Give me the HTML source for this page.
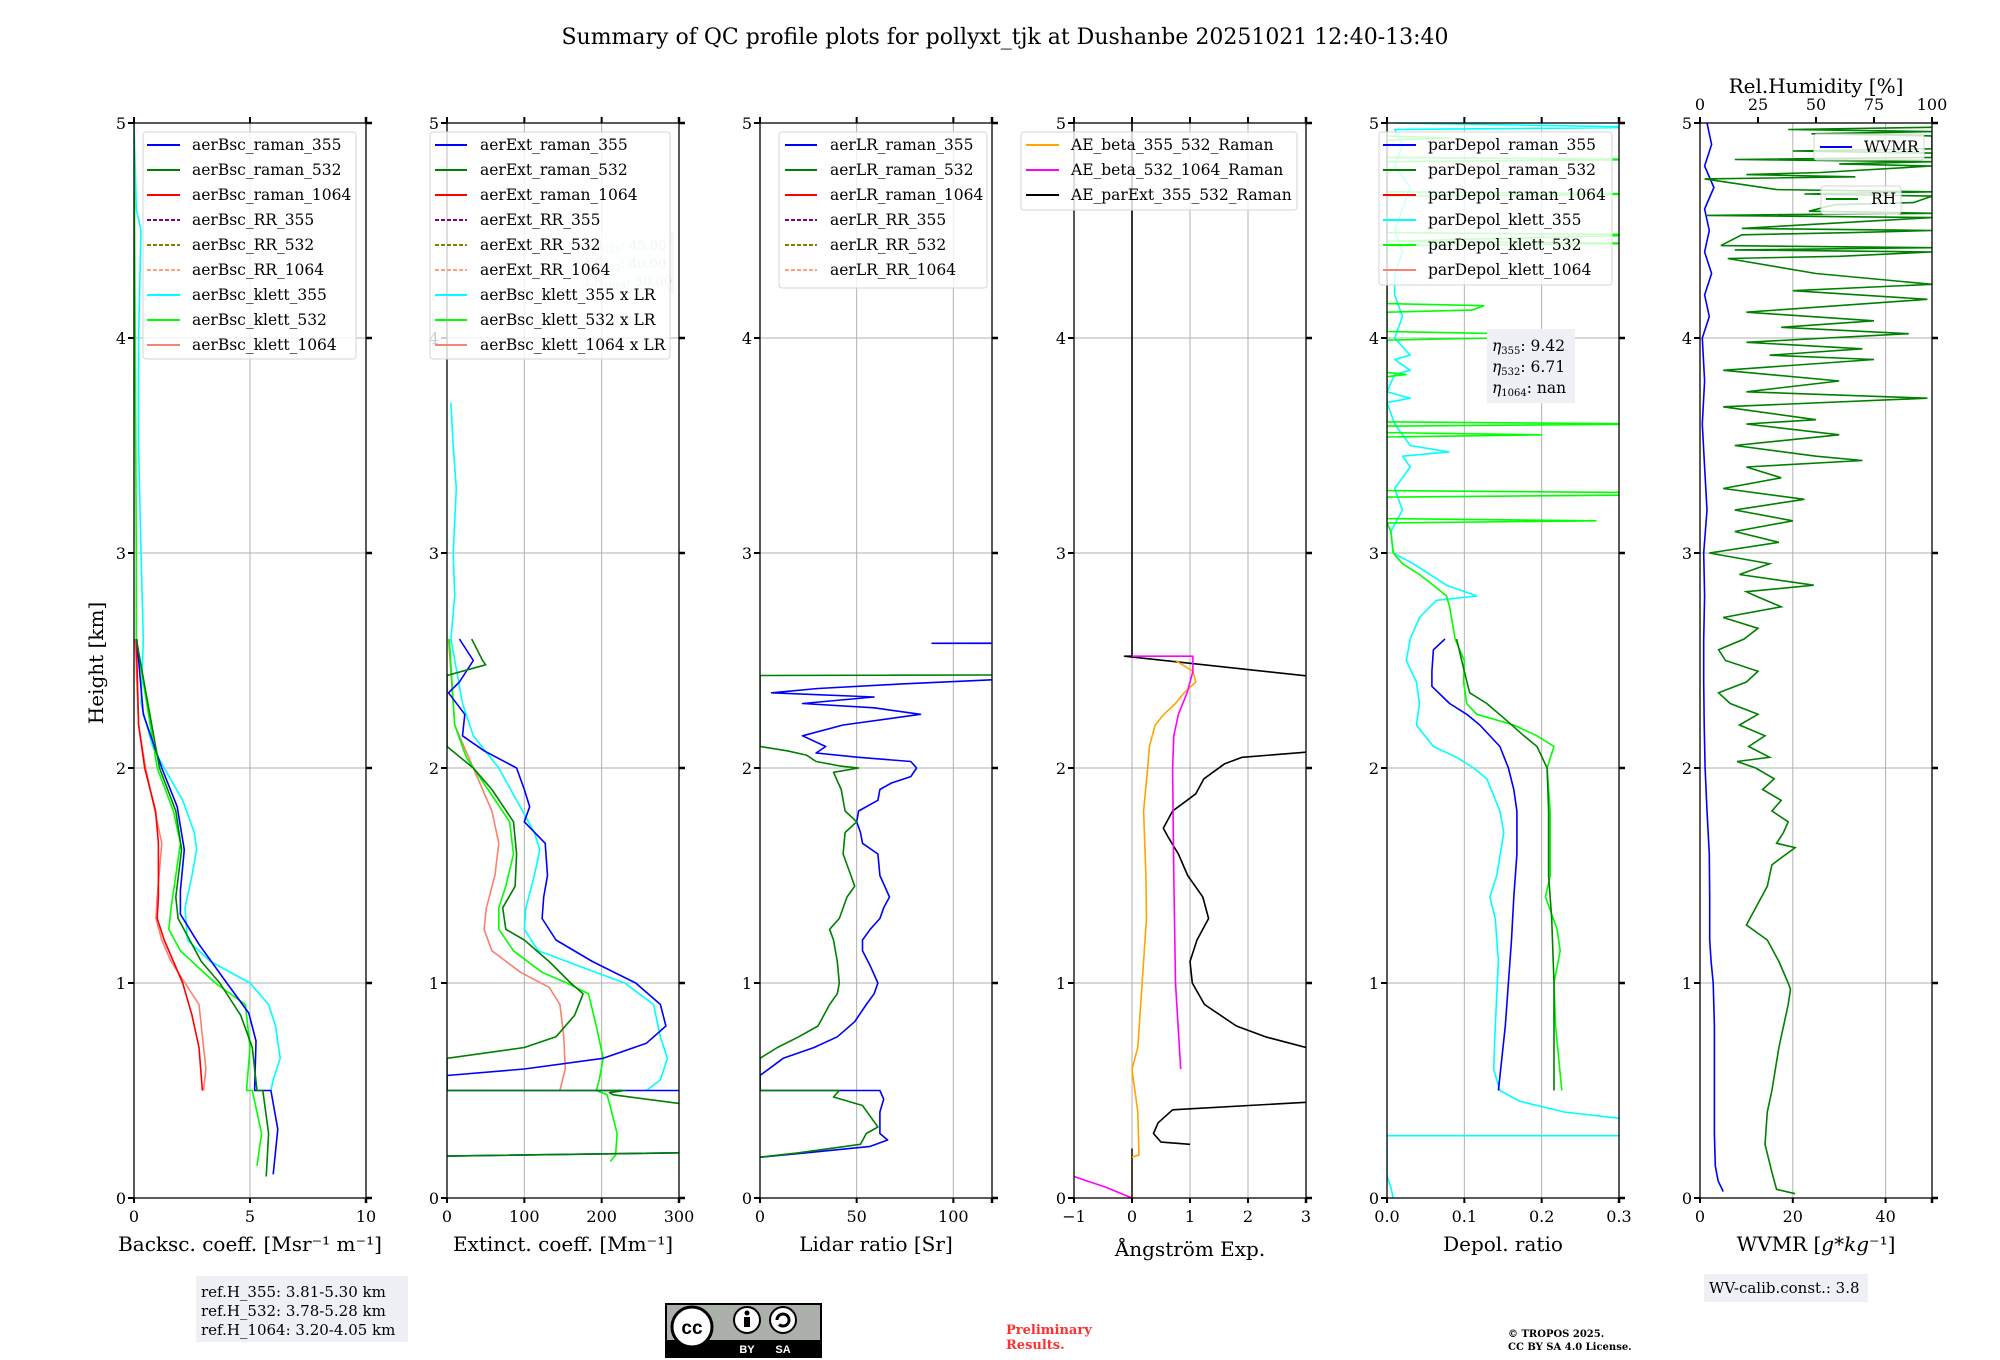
<!DOCTYPE html>
<html><head><meta charset="utf-8">
<style>
html,body{margin:0;padding:0;background:#fff;}
svg{display:block;font-family:"DejaVu Serif","Liberation Serif",serif;}
</style></head>
<body>
<svg id="fig" width="2000" height="1360" viewBox="0 0 2000 1360" xmlns="http://www.w3.org/2000/svg">
<rect width="2000" height="1360" fill="#fff"/>
<text x="1005" y="44" font-size="22" text-anchor="middle">Summary of QC profile plots for pollyxt_tjk at Dushanbe 20251021 12:40-13:40</text>
<text transform="translate(103,663) rotate(-90)" font-size="20" text-anchor="middle">Height [km]</text>
<g id="plots"></g>
<g id="overlays"></g>
</svg>
<script>
// ---------- Panel 1: backscatter ----------
const bscRaman355H=[2.6,2.25,2.0,1.82,1.62,1.43,1.32,1.18,1.0,0.86,0.73,0.5,0.5,0.32,0.11];
const bscRaman355V=[0.12,0.4,1.2,1.86,2.17,2.0,2.0,2.8,4.0,4.95,5.26,5.2,5.9,6.2,6.0];
const bscRaman532H=[2.6,2.0,1.8,1.62,1.4,1.3,1.1,1.0,0.85,0.7,0.5,0.5,0.3,0.1];
const bscRaman532V=[0.1,1.1,1.8,2.05,1.8,1.9,2.9,3.7,4.6,5.1,5.3,5.55,5.8,5.7];
const bscRaman1064H=[2.6,2.2,2.0,1.8,1.65,1.4,1.3,1.2,1.0,0.85,0.7,0.5];
const bscRaman1064V=[0.1,0.2,0.46,0.93,1.05,1.05,1.0,1.3,2.1,2.5,2.8,2.95];
const bscKlett355H=[5,4.6,4.5,4.0,3.5,3.0,2.6,2.3,2.1,2.0,1.85,1.7,1.62,1.5,1.35,1.2,1.1,1.0,0.9,0.8,0.65,0.55,0.5];
const bscKlett355V=[0,0.1,0.3,0.2,0.2,0.3,0.4,0.3,0.8,1.3,2.1,2.6,2.7,2.5,2.2,2.3,3.3,5.0,5.8,6.1,6.3,6.0,5.9];
const bscKlett532H=[5,4.0,3.0,2.6,2.0,1.8,1.65,1.5,1.35,1.25,1.15,1.0,0.9,0.7,0.5,0.5,0.3,0.15];
const bscKlett532V=[0,0.05,0.1,0.1,1.0,1.7,2.0,1.8,1.6,1.5,2.0,3.5,4.8,5.0,4.85,5.1,5.5,5.3];
const bscKlett1064H=[2.6,2.2,2.0,1.8,1.65,1.4,1.3,1.2,1.1,1.0,0.9,0.7,0.6,0.5];
const bscKlett1064V=[0.05,0.2,0.5,0.9,1.2,1.0,0.95,1.2,1.6,2.2,2.8,3.0,3.1,3.0];
// ---------- Panel 2: extinction ----------
const extRaman355H=[2.6,2.5,2.4,2.35,2.25,2.15,2.08,2.0,1.9,1.82,1.75,1.65,1.5,1.4,1.3,1.2,1.1,1.0,0.9,0.8,0.72,0.65,0.6,0.57,0.5,0.5,0.23,0.21,0.195];
const extRaman355V=[16,34,16,2,23,20,48,90,100,107,100,127,130,125,123,141,188,244,276,283,258,202,100,0,0,2000,2000,300,0];
const extRaman532H=[2.6,2.5,2.48,2.43,2.1,2.0,1.9,1.75,1.6,1.45,1.35,1.25,1.2,1.1,1.0,0.95,0.85,0.75,0.7,0.65,0.5,0.5,0.49,0.48,0.44,0.42,0.23,0.21,0.195];
const extRaman532V=[32,46,50,0,0,34,58,86,90,88,72,76,100,132,160,176,165,141,100,0,0,230,210,215,300,2000,2000,300,0];
const extKlett355H=[3.7,3.5,3.3,3.0,2.8,2.6,2.3,2.15,2.0,1.85,1.7,1.62,1.5,1.35,1.25,1.15,1.05,1.0,0.9,0.75,0.65,0.55,0.5];
const extKlett355V=[5,8,12,8,10,5,20,34,67,90,113,120,113,102,100,118,192,230,267,276,285,276,258];
const extKlett532H=[2.6,2.2,2.05,1.9,1.75,1.6,1.45,1.35,1.25,1.15,1.05,1.0,0.95,0.8,0.65,0.55,0.5,0.48,0.4,0.3,0.2,0.17];
const extKlett532V=[3,10,25,53,81,86,76,67,67,86,123,155,183,193,202,197,193,207,213,220,218,211];
const extKlett1064H=[2.6,2.2,2.0,1.8,1.65,1.5,1.35,1.25,1.15,1.05,0.98,0.9,0.75,0.6,0.5];
const extKlett1064V=[2,10,34,58,67,62,51,48,58,95,132,146,151,153,146];
// ---------- Panel 3: lidar ratio ----------
const lrRaman355H=[2.585,2.58,2.575,2.42,2.41,2.39,2.37,2.35,2.33,2.3,2.28,2.25,2.2,2.15,2.1,2.07,2.05,2.03,2.0,1.96,1.93,1.9,1.85,1.8,1.75,1.7,1.65,1.6,1.5,1.4,1.35,1.3,1.25,1.2,1.15,1.08,1.0,0.95,0.9,0.82,0.75,0.7,0.65,0.57,0.5,0.5,0.46,0.4,0.3,0.27,0.24,0.21,0.19];
const lrRaman355V=[500,89,500,500,120,72,30,6,59,22,59,83,43,22,34,29,51,78,81,78,68,62,61,51,50,52,53,61,62,67,64,62,57,53,53,57,61,59,55,49,40,28,12,0,0,62,64,62,62,66,57,24,0];
const lrRaman532H=[2.44,2.43,2.42,2.1,2.08,2.06,2.03,2.01,2.0,1.98,1.9,1.8,1.75,1.7,1.6,1.5,1.45,1.4,1.3,1.25,1.2,1.1,1.0,0.95,0.9,0.8,0.75,0.7,0.65,0.5,0.5,0.47,0.43,0.38,0.33,0.3,0.25,0.21,0.19];
const lrRaman532V=[500,0,0,0,14,24,29,41,51,38,42,44,50,44,43,47,49,45,41,36,38,40,41,40,36,30,20,9,0,0,41,38,53,57,61,55,52,20,0];
// ---------- Panel 4: Angstrom ----------
const aeParExtH=[5,2.52,2.52,2.42,2.08,2.05,2.02,1.95,1.88,1.85,1.8,1.72,1.68,1.6,1.5,1.4,1.3,1.2,1.1,1.0,0.9,0.8,0.75,0.7,0.68,0.45,0.41,0.35,0.3,0.26,0.25];
const aeParExtV=[0,0,-0.13,3.3,3.3,1.9,1.6,1.24,1.1,0.95,0.7,0.54,0.62,0.8,0.96,1.22,1.32,1.12,1.0,1.04,1.25,1.8,2.3,3.0,3.3,3.3,0.7,0.45,0.37,0.5,1.0];
const aeParExtLowH=[0.23,0.0];
const aeParExtLowV=[0,0];
const aeBsc355H=[2.5,2.45,2.4,2.35,2.3,2.25,2.2,2.1,2.0,1.8,1.5,1.3,1.1,0.9,0.7,0.6,0.5,0.4,0.2,0.19];
const aeBsc355V=[0.75,1.05,1.1,0.9,0.75,0.55,0.4,0.3,0.27,0.2,0.24,0.25,0.2,0.15,0.1,0.0,0.05,0.1,0.12,0.0];
const aeBsc532H=[2.52,2.52,2.45,2.35,2.25,2.15,2.0,1.5,1.0,0.6];
const aeBsc532V=[0.0,1.05,1.05,0.95,0.8,0.72,0.7,0.72,0.75,0.84];
const aeBsc532LowH=[0.1,0.05,0.0];
const aeBsc532LowV=[-1,-0.45,0];
// ---------- Panel 5: depol ----------
const dpRaman355H=[2.6,2.55,2.45,2.38,2.3,2.25,2.2,2.1,2.0,1.9,1.8,1.6,1.4,1.2,1.0,0.8,0.5];
const dpRaman355V=[0.075,0.06,0.058,0.058,0.081,0.103,0.12,0.146,0.157,0.164,0.168,0.168,0.164,0.161,0.157,0.153,0.144];
const dpRaman532H=[2.6,2.45,2.35,2.3,2.22,2.15,2.1,2.0,1.8,1.5,1.3,1.0,0.5];
const dpRaman532V=[0.09,0.10,0.107,0.129,0.155,0.177,0.194,0.207,0.209,0.209,0.213,0.216,0.216];
const dpKlett355H=[5.0,4.98,4.97,4.9,4.8,4.7,4.6,4.5,4.4,4.3,4.2,4.1,4.0,3.92,3.9,3.85,3.83,3.75,3.72,3.7,3.6,3.5,3.47,3.45,3.4,3.3,3.2,3.1,3.0,2.95,2.85,2.8,2.78,2.7,2.6,2.5,2.4,2.3,2.2,2.1,2.05,2.0,1.95,1.8,1.7,1.5,1.4,1.3,1.1,0.8,0.6,0.5,0.45,0.4,0.35,0.3,0.29,0.29,0.1,0.05,0.0];
const dpKlett355V=[0.01,0.35,0.01,0.02,0.01,0.03,0.02,0.01,0.02,0.01,0.01,0.02,0.01,0.03,0.01,0.03,0.01,0.0,0.03,0.0,0.01,0.03,0.08,0.02,0.03,0.01,0.02,0.005,0.008,0.034,0.077,0.116,0.064,0.042,0.03,0.025,0.038,0.042,0.038,0.06,0.09,0.112,0.129,0.146,0.151,0.142,0.133,0.14,0.144,0.14,0.138,0.146,0.172,0.229,0.35,0.35,0.35,0,0,0.005,0.008];
const dpKlett532H=[5.0,4.94,4.93,4.92,4.84,4.83,4.82,4.68,4.67,4.66,4.49,4.48,4.45,4.44,4.43,4.16,4.15,4.13,4.12,4.03,4.02,4.0,3.99,3.84,3.83,3.82,3.61,3.6,3.59,3.56,3.55,3.54,3.29,3.28,3.27,3.26,3.16,3.15,3.14,3.1,3.0,2.95,2.9,2.85,2.8,2.75,2.6,2.5,2.4,2.3,2.25,2.2,2.15,2.1,2.0,1.8,1.5,1.4,1.25,1.15,1.0,0.8,0.5];
const dpKlett532V=[0,0,0.08,0,0,0.35,0,0,0.35,0,0,0.35,0,0.35,0,0,0.125,0.11,0,0,0.15,0.14,0,0,0.025,0,0,0.35,0,0,0.2,0,0,0.35,0.35,0,0,0.27,0,0.005,0.008,0.02,0.042,0.06,0.077,0.081,0.088,0.10,0.099,0.103,0.116,0.164,0.194,0.216,0.207,0.211,0.211,0.205,0.22,0.224,0.216,0.218,0.226];
// ---------- Panel 6: WVMR / RH ----------
const wvmrH=[5.0,4.9,4.8,4.7,4.6,4.5,4.4,4.3,4.2,4.1,4.0,3.8,3.6,3.4,3.2,3.0,2.8,2.6,2.4,2.2,2.0,1.8,1.6,1.4,1.2,1.1,1.0,0.8,0.5,0.3,0.15,0.08,0.03];
const wvmrV=[1.5,2.5,1.0,3.0,1.0,2.0,1.0,2.5,1.0,2.0,0.5,1.0,0.5,1.0,1.5,0.8,1.0,0.8,0.8,0.9,1.1,1.5,2.0,2.1,2.1,2.4,2.85,3.1,3.1,3.1,3.3,3.9,5.0];
const rhH=[4.98,4.97,4.96,4.95,4.94,4.88,4.87,4.86,4.84,4.83,4.82,4.81,4.80,4.77,4.76,4.75,4.74,4.69,4.68,4.67,4.66,4.63,4.62,4.59,4.58,4.57,4.56,4.51,4.50,4.49,4.48,4.43,4.42,4.41,4.40,4.38,4.37,4.3,4.25,4.22,4.18,4.12,4.08,4.05,4.02,3.98,3.95,3.92,3.9,3.85,3.8,3.75,3.72,3.68,3.62,3.6,3.55,3.5,3.45,3.43,3.4,3.35,3.3,3.25,3.2,3.15,3.1,3.05,3.0,2.95,2.9,2.85,2.82,2.8,2.75,2.7,2.65,2.6,2.55,2.5,2.45,2.4,2.35,2.3,2.25,2.2,2.15,2.1,2.05,2.03,2.0,1.95,1.9,1.85,1.8,1.75,1.7,1.65,1.63,1.55,1.45,1.35,1.27,1.2,1.1,1.0,0.97,0.9,0.7,0.5,0.4,0.25,0.12,0.08,0.04,0.02];
const rhV=[100,38,100,48,100,100,40,100,100,15,100,60,100,52,20,67,2,33,100,45,100,92,58,47,100,3,100,18,100,66,18,9,100,15,100,60,12,50,100,40,98,20,75,35,90,20,70,30,75,10,60,20,98,10,50,20,60,15,50,70,20,35,10,45,15,40,15,34,4,30,17,49,20,24,35,10,25,19,8,11,25,20,8,13,25,17,28,21,30,16,24,32,27,35,31,38,36,33,41,31,29,24,20,29,34,38,39,38,34,31,29,28,31,32,33,41];
// tick label arrays
const yTicks=[0,1,2,3,4,5];
const ticksP1=[0,5,10], ticksP2=[0,100,200,300], ticksP3=[0,50,100], ticksP4=[-1,0,1,2,3];
const ticksP5=[0,0.1,0.2,0.3], ticksP5Labels=["0.0","0.1","0.2","0.3"];
const ticksP6=[0,20,40], ticksRH=[0,25,50,75,100];

const NS="http://www.w3.org/2000/svg";
const TOP=123, BOT=1198, W=232, HMAX=5;
const lefts=[134,447,760,1074,1387,1700];
const panels=[
 {min:0,max:10,ticks:ticksP1,label:"Backsc. coeff. [Msr\u207B\u00B9 m\u207B\u00B9]",name:"backscatter"},
 {min:0,max:300,ticks:ticksP2,label:"Extinct. coeff. [Mm\u207B\u00B9]",name:"extinction"},
 {min:0,max:120,ticks:ticksP3,label:"Lidar ratio [Sr]",name:"lidar-ratio"},
 {min:-1,max:3,ticks:ticksP4,label:"\u00C5ngstr\u00F6m Exp.",name:"angstrom",ly:1256},
 {min:0,max:0.3,ticks:ticksP5,labels:ticksP5Labels,label:"Depol. ratio",name:"depol"},
 {min:0,max:50,ticks:ticksP6,label:"WVMR [<tspan font-style='italic'>g</tspan>*<tspan font-style='italic'>kg</tspan>\u207B\u00B9]",name:"wvmr",html:true}
];
const root=document.getElementById('plots');
function el(tag,attrs,parent){const e=document.createElementNS(NS,tag);for(const k in attrs)e.setAttribute(k,attrs[k]);(parent||root).appendChild(e);return e;}
function yOf(h){return BOT-(h/HMAX)*(BOT-TOP);}
function xOf(i,v){const p=panels[i];return lefts[i]+(v-p.min)/(p.max-p.min)*W;}

panels.forEach((p,i)=>{
 const L=lefts[i];
 const g=el('g',{});
 
 
 const cp=el('clipPath',{id:'clip'+i},g);
 el('rect',{x:L,y:TOP,width:W,height:BOT-TOP},cp);
 yTicks.forEach(t=>{if(t>0&&t<5){const ln=el('line',{x1:L,x2:L+W,y1:yOf(t),y2:yOf(t),stroke:'#b0b0b0','stroke-width':1},g);
  }});
 p.ticks.forEach(t=>{const x=xOf(i,t);if(x>L+1&&x<L+W-1){const ln=el('line',{x1:x,x2:x,y1:TOP,y2:BOT,stroke:'#b0b0b0','stroke-width':1},g);
  }});
 p.series=el('g',{'clip-path':'url(#clip'+i+')'},g);
 p.g=g;
});

function line(i,H,V,color,name,w,dash){
 const pts=H.map((h,k)=>xOf(i,V[k]).toFixed(1)+','+yOf(h).toFixed(1)).join(' ');
 const pl=el('polyline',{points:pts,fill:'none',stroke:color,'stroke-width':w||1.6,'stroke-linejoin':'round'},panels[i].series);
 if(dash)pl.setAttribute('stroke-dasharray',dash);
 
 
}
const C={blue:'#0000ff',green:'#008000',red:'#ff0000',cyan:'#00ffff',lime:'#00ff00',salmon:'#fa8072',orange:'#ffa500',mag:'#ff00ff',black:'#000000'};
line(0,bscKlett1064H,bscKlett1064V,C.salmon,'bsc-klett-1064-line');
line(0,bscKlett355H,bscKlett355V,C.cyan,'bsc-klett-355-line');
line(0,bscKlett532H,bscKlett532V,C.lime,'bsc-klett-532-line');
line(0,bscRaman1064H,bscRaman1064V,C.red,'bsc-raman-1064-line');
line(0,bscRaman355H,bscRaman355V,C.blue,'bsc-raman-355-line');
line(0,bscRaman532H,bscRaman532V,C.green,'bsc-raman-532-line');
line(1,extKlett1064H,extKlett1064V,C.salmon,'ext-klett-1064-line');
line(1,extKlett355H,extKlett355V,C.cyan,'ext-klett-355-line');
line(1,extKlett532H,extKlett532V,C.lime,'ext-klett-532-line');
line(1,extRaman355H,extRaman355V,C.blue,'ext-raman-355-line');
line(1,extRaman532H,extRaman532V,C.green,'ext-raman-532-line');
line(2,lrRaman355H,lrRaman355V,C.blue,'lr-raman-355-line');
line(2,lrRaman532H,lrRaman532V,C.green,'lr-raman-532-line');
line(3,aeParExtH,aeParExtV,C.black,'ae-parext-355-532-line');
line(3,aeParExtLowH,aeParExtLowV,'#201000','ae-parext-low-line');
line(3,aeBsc355H,aeBsc355V,C.orange,'ae-beta-355-532-line');
line(3,aeBsc532H,aeBsc532V,C.mag,'ae-beta-532-1064-line');
line(3,aeBsc532LowH,aeBsc532LowV,C.mag,'ae-beta-532-1064-low-line');
line(4,dpKlett355H,dpKlett355V,C.cyan,'depol-klett-355-line');
line(4,dpKlett532H,dpKlett532V,C.lime,'depol-klett-532-line');
line(4,dpRaman355H,dpRaman355V,C.blue,'depol-raman-355-line');
line(4,dpRaman532H,dpRaman532V,C.green,'depol-raman-532-line');
line(5,wvmrH,wvmrV,C.blue,'wvmr-line');
(function(){
 const L=lefts[5];
 const pts=rhH.map((h,k)=>(L+rhV[k]/100*W).toFixed(1)+','+yOf(h).toFixed(1)).join(' ');
 const pl=el('polyline',{points:pts,fill:'none',stroke:C.green,'stroke-width':1.6},panels[5].series);
 
 
})();

panels.forEach((p,i)=>{
 const L=lefts[i],g=p.g;
 const fr=el('rect',{x:L,y:TOP,width:W,height:BOT-TOP,fill:'none',stroke:'#000','stroke-width':1.3},g);
 
 yTicks.forEach(t=>{
  const y=yOf(t);
  el('line',{x1:L-6,x2:L,y1:y,y2:y,stroke:'#000','stroke-width':2},g);
  el('line',{x1:L+W,x2:L+W+6,y1:y,y2:y,stroke:'#000','stroke-width':2.5},g);
  const tx=el('text',{x:L-8,y:y+6,'font-size':16,'text-anchor':'end'},g);tx.textContent=t;
  
 });
 p.ticks.forEach((t,k)=>{
  const x=xOf(i,t);
  el('line',{x1:x,x2:x,y1:BOT,y2:BOT+5,stroke:'#000','stroke-width':2},g);
  if(i!==5)el('line',{x1:x,x2:x,y1:TOP-6,y2:TOP,stroke:'#000','stroke-width':2},g);
  const tx=el('text',{x:x,y:1222,'font-size':16,'text-anchor':'middle'},g);
  tx.textContent=p.labels?p.labels[k]:(t<0?'\u2212'+(-t):t);
  
 });
 if(i!==5)el('line',{x1:L+W,x2:L+W,y1:TOP-6,y2:TOP,stroke:'#000','stroke-width':2.5},g);
 el('line',{x1:L+W,x2:L+W,y1:BOT,y2:BOT+5,stroke:'#000','stroke-width':2.5},g);
 const xl=el('text',{x:L+W/2,y:p.ly||1251,'font-size':20,'text-anchor':'middle'},g);
 if(p.html)xl.innerHTML=p.label;else xl.textContent=p.label;
 
});
ticksRH.forEach(t=>{
 const x=lefts[5]+t/100*W;
 el('line',{x1:x,x2:x,y1:TOP-6,y2:TOP,stroke:'#000','stroke-width':2});
 const tx=el('text',{x:x,y:110,'font-size':16,'text-anchor':'middle'});tx.textContent=t;
 
});
const rht=el('text',{x:lefts[5]+W/2,y:93,'font-size':20,'text-anchor':'middle'});
rht.textContent='Rel.Humidity [%]';


function legend(name,x,y,w,h,entries,tx,lx1,lx2,step,fs){
 const g=el('g',{},document.getElementById('overlays'));
 
 el('rect',{x:x,y:y,width:w,height:h,rx:3,fill:'#fff','fill-opacity':0.8,stroke:'#d6d6d6'},g);
 entries.forEach((e,k)=>{
  const cy=y+13+k*step;
  const ln=el('line',{x1:lx1,x2:lx2,y1:cy,y2:cy,stroke:e[1],'stroke-width':2},g);
  if(e[2])ln.setAttribute('stroke-dasharray','4,2');
  const t=el('text',{x:tx,y:cy+5,'font-size':fs||15.5},g);t.textContent=e[0];
  
 });
}
legend('legend-backscatter',143,132,213,227,[['aerBsc_raman_355',C.blue],['aerBsc_raman_532',C.green],['aerBsc_raman_1064',C.red],['aerBsc_RR_355','#800080',1],['aerBsc_RR_532','#808000',1],['aerBsc_RR_1064','#ffa07a',1],['aerBsc_klett_355',C.cyan],['aerBsc_klett_532',C.lime],['aerBsc_klett_1064',C.salmon]],192,147,180,25);
(function(){const g=el('g',{},document.getElementById('overlays'));
 
 el('rect',{x:580,y:232,width:94,height:62,fill:'#eef0f5','fill-opacity':0.5},g);
 [['LR',"355",': 45.00'],['LR','532',': 40.00'],['LR','1064',': 50.00']].forEach((r,k)=>{
  const t=el('text',{x:585,y:250+k*18,'font-size':13,fill:'#c8c8c8'},g);
  t.innerHTML=r[0]+'<tspan font-size="9" dy="3">'+r[1]+'</tspan><tspan dy="-3">'+r[2]+'</tspan>';
 });})();
legend('legend-extinction',430,132,240,227,[['aerExt_raman_355',C.blue],['aerExt_raman_532',C.green],['aerExt_raman_1064',C.red],['aerExt_RR_355','#800080',1],['aerExt_RR_532','#808000',1],['aerExt_RR_1064','#ffa07a',1],['aerBsc_klett_355 x LR',C.cyan],['aerBsc_klett_532 x LR',C.lime],['aerBsc_klett_1064 x LR',C.salmon]],480,435,467,25);
legend('legend-lidar-ratio',779,132,208,156,[['aerLR_raman_355',C.blue],['aerLR_raman_532',C.green],['aerLR_raman_1064',C.red],['aerLR_RR_355','#800080',1],['aerLR_RR_532','#808000',1],['aerLR_RR_1064','#ffa07a',1]],830,785,817,25);
legend('legend-angstrom',1021,132,276,78,[['AE_beta_355_532_Raman',C.orange],['AE_beta_532_1064_Raman',C.mag],['AE_parExt_355_532_Raman',C.black]],1071,1026,1059,25);
legend('legend-depol',1379,132,233,153,[['parDepol_raman_355',C.blue],['parDepol_raman_532',C.green],['parDepol_raman_1064',C.red],['parDepol_klett_355',C.cyan],['parDepol_klett_532',C.lime],['parDepol_klett_1064',C.salmon]],1428,1383,1416,25);
legend('legend-wvmr',1814,134,110,26,[['WVMR',C.blue]],1864,1820,1852,25);
legend('legend-rh',1821,186,80,28,[['RH',C.green]],1871,1826,1858,25);
(function(){const g=el('g',{},document.getElementById('overlays'));
 
 el('rect',{x:1487,y:329,width:88,height:74,fill:'#eef0f5'},g);
 [['355',': 9.42'],['532',': 6.71'],['1064',': nan']].forEach((r,k)=>{
  const t=el('text',{x:1492,y:351+k*21,'font-size':15.5},g);
  t.innerHTML='<tspan font-style="italic">\u03B7</tspan><tspan font-size="10" dy="3">'+r[0]+'</tspan><tspan dy="-3">'+r[1]+'</tspan>';
 });})();
</script>
<svg style="position:absolute;left:0;top:0" width="2000" height="1360" xmlns="http://www.w3.org/2000/svg" font-family="DejaVu Serif, Liberation Serif, serif">
<g>
<rect x="196" y="1276" width="212" height="66" fill="#eef0f5"/>
<text x="201" y="1297" font-size="15">ref.H_355: 3.81-5.30 km</text>
<text x="201" y="1316" font-size="15">ref.H_532: 3.78-5.28 km</text>
<text x="201" y="1335" font-size="15">ref.H_1064: 3.20-4.05 km</text>
</g>
<g>
<rect x="665" y="1303" width="157" height="55" fill="#000" />
<rect x="667" y="1305" width="153" height="35" fill="#abb1aa"/>
<circle cx="692" cy="1327" r="20" fill="#fff" stroke="#000" stroke-width="3"/>
<text x="692" y="1334" font-size="19" font-weight="bold" text-anchor="middle" font-family="Liberation Sans, sans-serif">cc</text>
<circle cx="747" cy="1320" r="13" fill="#fff" stroke="#000" stroke-width="2"/>
<circle cx="747" cy="1313" r="2.5" fill="#000"/>
<rect x="744" y="1317" width="6" height="10" fill="#000"/>
<circle cx="783" cy="1320" r="13" fill="#fff" stroke="#000" stroke-width="2"/>
<path d="M777 1320 a6 6 0 1 1 2 4.5" fill="none" stroke="#000" stroke-width="3"/>
<text x="747" y="1353" font-size="11" font-weight="bold" fill="#fff" text-anchor="middle" font-family="Liberation Sans, sans-serif">BY</text>
<text x="783" y="1353" font-size="11" font-weight="bold" fill="#fff" text-anchor="middle" font-family="Liberation Sans, sans-serif">SA</text>
</g>
<text x="1006" y="1334" font-size="13" font-weight="bold" fill="#ff3030">Preliminary</text>
<text x="1006" y="1349" font-size="13" font-weight="bold" fill="#ff3030">Results.</text>
<text x="1508" y="1337" font-size="10" font-weight="bold">© TROPOS 2025.</text>
<text x="1508" y="1350" font-size="10" font-weight="bold">CC BY SA 4.0 License.</text>
<g>
<rect x="1704" y="1274" width="164" height="28" fill="#eef0f5"/>
<text x="1709" y="1293" font-size="15">WV-calib.const.: 3.8</text>
</g>
</svg>
</body></html>
